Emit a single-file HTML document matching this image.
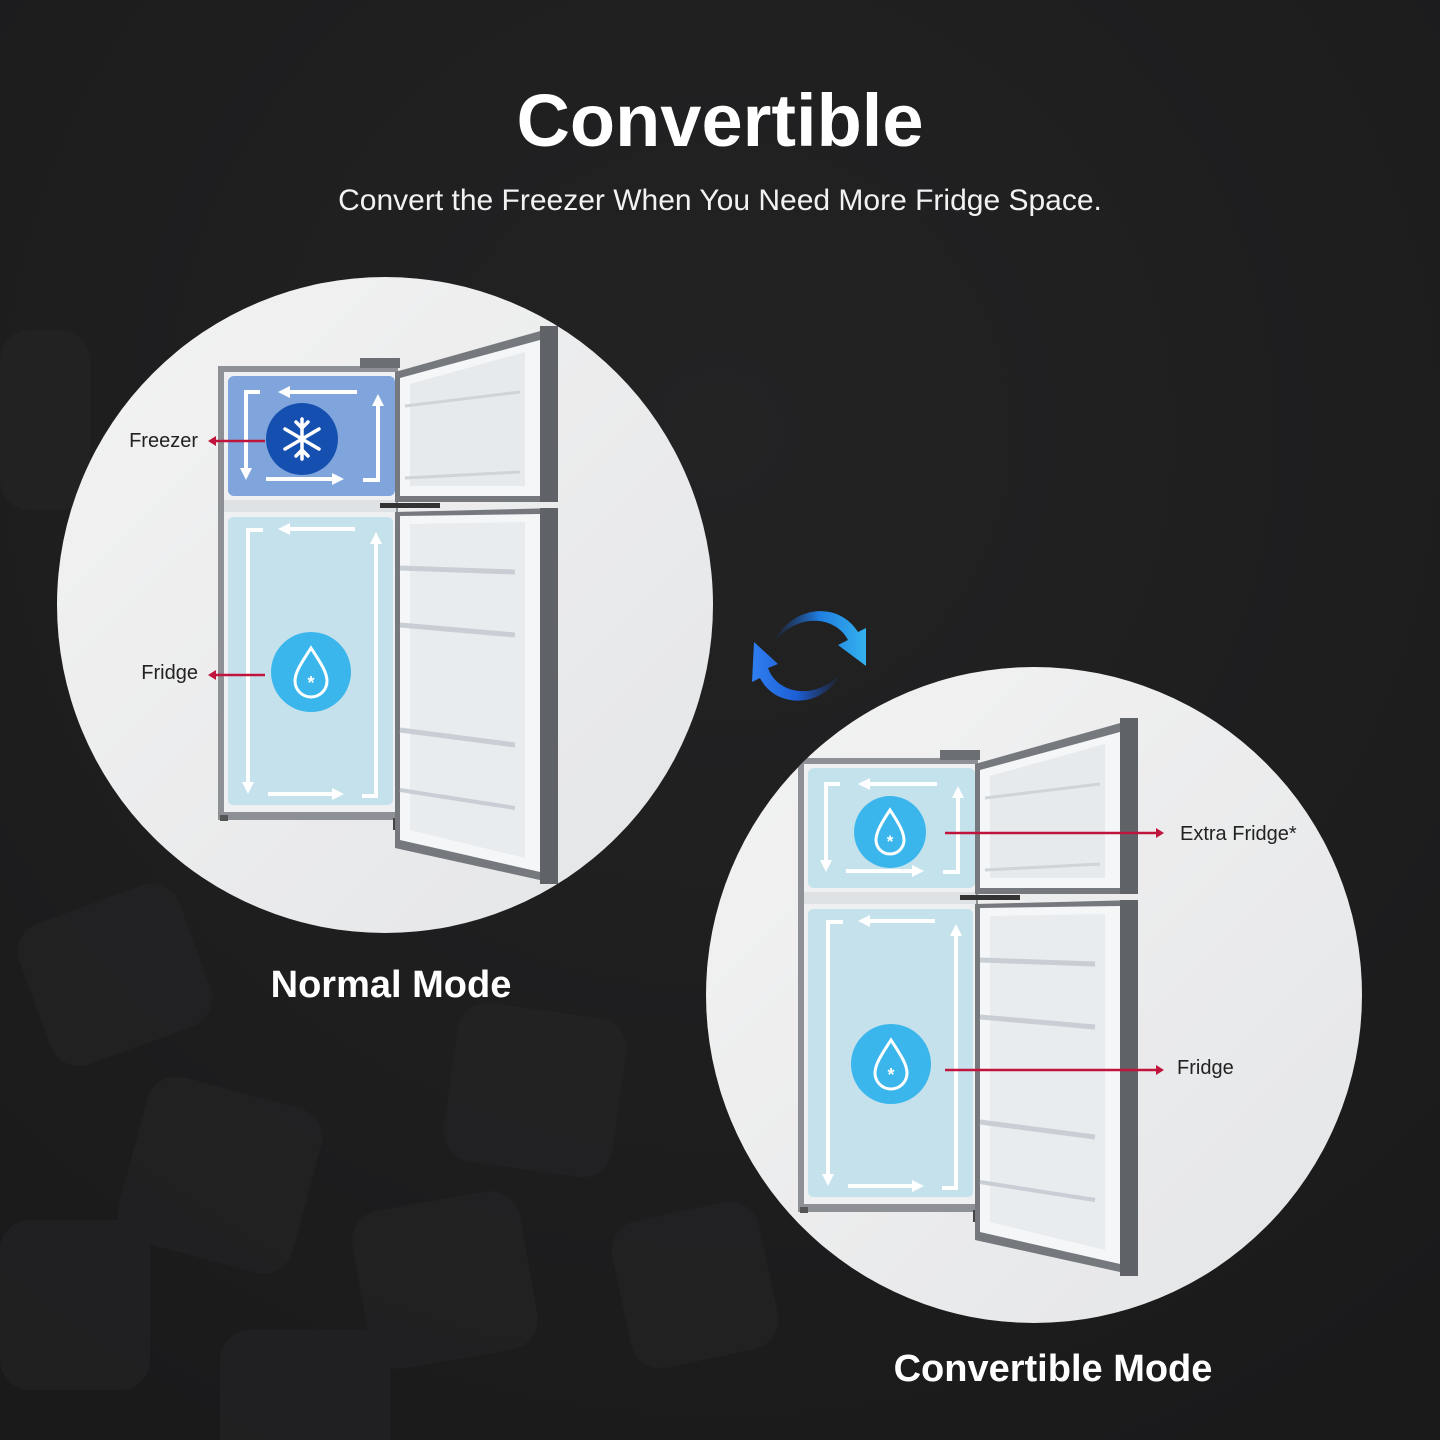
<!DOCTYPE html>
<html><head><meta charset="utf-8">
<style>
html,body{margin:0;padding:0;background:#1c1c1d;}
svg{display:block}
text{font-family:"Liberation Sans","DejaVu Sans",sans-serif}
</style></head>
<body>
<svg width="1440" height="1440" viewBox="0 0 1440 1440" xmlns="http://www.w3.org/2000/svg">
<defs>
  <radialGradient id="bg" cx="0.5" cy="0.3" r="0.8">
    <stop offset="0" stop-color="#232324"/><stop offset="1" stop-color="#1a1a1b"/>
  </radialGradient>
  <linearGradient id="wall" x1="0" y1="0" x2="1" y2="1">
    <stop offset="0" stop-color="#f3f3f3"/><stop offset="1" stop-color="#e4e5e7"/>
  </linearGradient>
  <clipPath id="c1"><circle cx="385" cy="605" r="328"/></clipPath>
  <clipPath id="c2"><circle cx="1034" cy="995" r="328"/></clipPath>
  <linearGradient id="arA" x1="0" y1="0" x2="1" y2="0">
    <stop offset="0" stop-color="#1b4fb8" stop-opacity="0"/><stop offset="0.5" stop-color="#1f7ee0"/><stop offset="1" stop-color="#34b2ef"/>
  </linearGradient>
  <linearGradient id="arB" x1="1" y1="0" x2="0" y2="0">
    <stop offset="0" stop-color="#1b4fb8" stop-opacity="0"/><stop offset="0.5" stop-color="#1d5fd6"/><stop offset="1" stop-color="#2f7ff0"/>
  </linearGradient>
  <marker id="mw" markerWidth="12" markerHeight="12" refX="4" refY="6" orient="auto" markerUnits="userSpaceOnUse" viewBox="0 0 12 12"><path d="M0,0L12,6L0,12z" fill="#fff"/></marker>
  <g id="fridgeBase">
    <rect x="218" y="366" width="180" height="454" fill="#8d9095"/>
    <rect x="224" y="372" width="172" height="440" fill="#eef0f2"/>
    <rect x="224" y="500" width="172" height="12" fill="#dfe2e5"/>
    <rect x="360" y="358" width="40" height="10" fill="#6b6e72"/>
    <rect x="220" y="815" width="8" height="6" fill="#555"/>
    <rect x="393" y="818" width="10" height="12" fill="#444"/>
    <polygon points="395,372 558,326 558,502 395,502" fill="#75797e"/>
    <polygon points="400,378 540,340 540,496 400,496" fill="#f4f6f8"/>
    <polygon points="410,384 525,352 525,486 410,486" fill="#e6eaed"/>
    <line x1="405" y1="406" x2="520" y2="392" stroke="#cfd4d8" stroke-width="3"/>
    <line x1="405" y1="478" x2="520" y2="472" stroke="#cfd4d8" stroke-width="3"/>
    <rect x="540" y="326" width="18" height="176" fill="#5f6368"/>
    <rect x="380" y="503" width="60" height="5" fill="#333"/>
    <polygon points="395,512 558,508 558,884 395,848" fill="#75797e"/>
    <polygon points="400,516 540,514 540,872 400,840" fill="#f4f6f8"/>
    <polygon points="410,524 525,522 525,858 410,830" fill="#e8ecef"/>
    <line x1="400" y1="568" x2="515" y2="572" stroke="#c8ced3" stroke-width="5"/>
    <line x1="400" y1="625" x2="515" y2="635" stroke="#c8ced3" stroke-width="5"/>
    <line x1="400" y1="730" x2="515" y2="745" stroke="#c8ced3" stroke-width="5"/>
    <line x1="400" y1="790" x2="515" y2="808" stroke="#c8ced3" stroke-width="4"/>
    <rect x="540" y="508" width="18" height="376" fill="#5f6368"/>
    <rect x="228" y="517" width="165" height="288" rx="5" fill="#b7dce9" opacity="0.75"/>
    <g fill="none" stroke="#fff" stroke-width="4">
      <path d="M263,530 H248 V786" marker-end="url(#mw)"/>
      <path d="M355,529 H286" marker-end="url(#mw)"/>
      <path d="M268,794 H336" marker-end="url(#mw)"/>
      <path d="M362,796 H376 V540" marker-end="url(#mw)"/>
    </g>
    <circle cx="311" cy="672" r="40" fill="#3ab6ec"/>
    <path d="M311,648 C302,662 295,672 295,681 A16,16 0 0 0 327,681 C327,672 320,662 311,648 Z" fill="none" stroke="#fff" stroke-width="3"/>
    <text x="311" y="689" font-size="18" font-weight="bold" fill="#fff" text-anchor="middle">*</text>
  </g>
  <g id="freezerArrows" fill="none" stroke="#fff" stroke-width="4">
    <path d="M260,392 H246 V472" marker-end="url(#mw)"/>
    <path d="M357,392 H286" marker-end="url(#mw)"/>
    <path d="M266,479 H336" marker-end="url(#mw)"/>
    <path d="M363,480 H378 V402" marker-end="url(#mw)"/>
  </g>
</defs>

<rect width="1440" height="1440" fill="url(#bg)"/>
<g fill="#252527" opacity="0.6">
  <rect x="30" y="900" width="170" height="150" rx="30" transform="rotate(-20 115 975)"/>
  <rect x="130" y="1090" width="180" height="170" rx="30" transform="rotate(15 220 1175)"/>
  <rect x="360" y="1200" width="170" height="160" rx="30" transform="rotate(-10 445 1280)"/>
  <rect x="0" y="1220" width="150" height="170" rx="30"/>
  <rect x="450" y="1010" width="170" height="160" rx="30" transform="rotate(8 535 1090)"/>
  <rect x="620" y="1210" width="150" height="150" rx="30" transform="rotate(-12 695 1285)"/>
  <rect x="220" y="1330" width="170" height="140" rx="30"/>
  <rect x="0" y="330" width="90" height="180" rx="30"/>
</g>

<text x="720" y="146" font-size="74" font-weight="bold" fill="#fff" text-anchor="middle">Convertible</text>
<text x="720" y="210" font-size="30" fill="#f2f2f2" text-anchor="middle">Convert the Freezer When You Need More Fridge Space.</text>

<circle cx="385" cy="605" r="328" fill="url(#wall)"/>
<g clip-path="url(#c1)">
  <use href="#fridgeBase"/>
  <rect x="228" y="376" width="167" height="120" rx="6" fill="#7fa5dc"/>
  <use href="#freezerArrows"/>
  <circle cx="302" cy="439" r="36" fill="#1550b0"/>
  <g stroke="#fff" stroke-width="3.5" stroke-linecap="round" fill="none">
    <path d="M302,419 V459 M285,429 L319,449 M285,449 L319,429"/>
    <path d="M296,422 L302,428 L308,422 M296,456 L302,450 L308,456"/>
  </g>
</g>
<g stroke="#c0143c" stroke-width="2.5"><line x1="214" y1="441" x2="265" y2="441"/><line x1="214" y1="675" x2="265" y2="675"/></g>
<path d="M208,441 L216,436 L216,446z M208,675 L216,670 L216,680z" fill="#c0143c"/>
<text x="198" y="447" font-size="20" fill="#222" text-anchor="end">Freezer</text>
<text x="198" y="679" font-size="20" fill="#222" text-anchor="end">Fridge</text>

<circle cx="1034" cy="995" r="328" fill="url(#wall)"/>
<g clip-path="url(#c2)">
  <g transform="translate(580,392)">
    <use href="#fridgeBase"/>
    <rect x="228" y="376" width="167" height="120" rx="6" fill="#c3e2ec"/>
    <use href="#freezerArrows"/>
    <circle cx="310" cy="440" r="36" fill="#3ab6ec"/>
    <path d="M310,418 C302,430 296,440 296,448 A14,14 0 0 0 324,448 C324,440 318,430 310,418 Z" fill="none" stroke="#fff" stroke-width="3"/>
    <text x="310" y="455" font-size="17" font-weight="bold" fill="#fff" text-anchor="middle">*</text>
  </g>
</g>
<g stroke="#c0143c" stroke-width="2.5"><line x1="945" y1="833" x2="1158" y2="833"/><line x1="945" y1="1070" x2="1158" y2="1070"/></g>
<path d="M1164,833 L1156,828 L1156,838z M1164,1070 L1156,1065 L1156,1075z" fill="#c0143c"/>
<text x="1180" y="840" font-size="20" fill="#222">Extra Fridge*</text>
<text x="1177" y="1074" font-size="20" fill="#222">Fridge</text>

<path d="M772,645 C795,612 835,615 848,640 L838,645 L866,666 L866,628 L858,632 C838,600 790,605 772,645Z" fill="url(#arA)"/>
<path d="M842,672 C818,700 778,696 768,668 L778,664 L754,642 L752,682 L760,678 C776,710 825,708 842,672Z" fill="url(#arB)"/>

<text x="391" y="997" font-size="38" font-weight="bold" fill="#fff" text-anchor="middle">Normal Mode</text>
<text x="1053" y="1381" font-size="38" font-weight="bold" fill="#fff" text-anchor="middle">Convertible Mode</text>
</svg>
</body></html>
